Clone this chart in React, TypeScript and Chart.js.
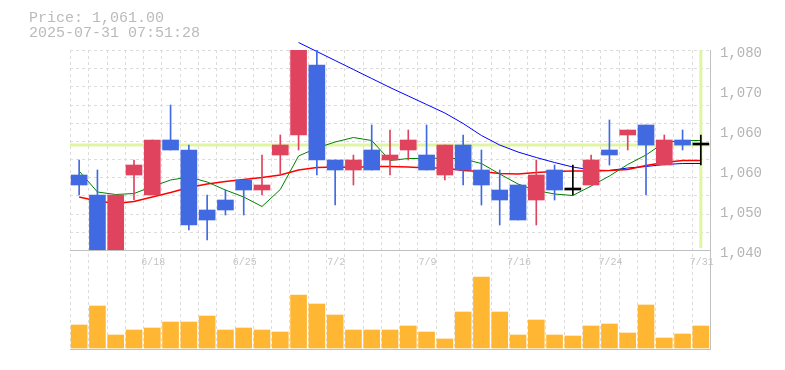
import { useEffect, useRef } from 'react';
import { Chart, registerables } from 'chart.js';

Chart.register(...registerables);

// ---- data ----
const dates = [
  '6/12', '6/13', '6/16', '6/17', '6/18', '6/19', '6/20', '6/23', '6/24', '6/25',
  '6/26', '6/27', '6/30', '7/1', '7/2', '7/3', '7/4', '7/7', '7/8', '7/9',
  '7/10', '7/11', '7/14', '7/15', '7/16', '7/17', '7/18', '7/22', '7/23', '7/24',
  '7/25', '7/28', '7/29', '7/30', '7/31',
];
const opens = [1055, 1051, 1040, 1055, 1051, 1062, 1060, 1048, 1050, 1054, 1052, 1059, 1063, 1077, 1058, 1056, 1060, 1058, 1060, 1059, 1055, 1061, 1056, 1052, 1053, 1050, 1056, 1052, 1053, 1060, 1063, 1065, 1057, 1062, 1061];
const highs = [1058, 1056, 1051, 1058, 1062, 1069, 1061, 1051, 1052, 1054, 1059, 1063, 1080, 1080, 1058, 1059, 1065, 1064, 1064, 1065, 1061, 1063, 1060, 1056, 1053, 1058, 1057, 1057, 1059, 1066, 1064, 1065, 1063, 1064, 1063];
const lows = [1051, 1040, 1040, 1050, 1051, 1060, 1044, 1042, 1047, 1047, 1051, 1055, 1060, 1055, 1049, 1053, 1056, 1055, 1058, 1056, 1054, 1053, 1049, 1045, 1046, 1045, 1050, 1051, 1053, 1057, 1060, 1051, 1057, 1060, 1057];
const closes = [1053, 1040, 1051, 1057, 1062, 1060, 1045, 1046, 1048, 1052, 1053, 1061, 1080, 1058, 1056, 1058, 1056, 1059, 1062, 1056, 1061, 1056, 1053, 1050, 1046, 1055, 1052, 1052, 1058, 1059, 1064, 1061, 1062, 1061, 1061];
const volumes = [23000, 42000, 13000, 18000, 20000, 26000, 26000, 32000, 18000, 20000, 18000, 16000, 53000, 44000, 33000, 18000, 18000, 18000, 22000, 16000, 9000, 36000, 71000, 36000, 13000, 28000, 13000, 12000, 22000, 24000, 15000, 43000, 10000, 14000, 22000];
const maShort = [1055.8, 1051.6, 1051.1, 1051.3, 1052.7, 1054.0, 1054.6, 1053.6, 1052.0, 1050.6, 1048.7, 1052.1, 1058.8, 1060.4, 1061.6, 1062.5, 1061.9, 1057.9, 1058.3, 1058.3, 1058.4, 1058.2, 1057.3, 1055.2, 1053.2, 1051.9, 1051.2, 1050.9, 1052.8, 1054.8, 1057.1, 1059.0, 1061.5, 1061.9, 1061.9];
const maMid = [1050.6, 1049.8, 1049.3, 1049.7, 1050.6, 1051.5, 1052.5, 1053.2, 1053.7, 1054.1, 1054.5, 1055.0, 1056.0, 1056.5, 1056.6, 1056.5, 1056.7, 1056.7, 1056.6, 1056.4, 1056.4, 1055.9, 1055.7, 1055.3, 1055.2, 1055.5, 1055.7, 1055.8, 1055.8, 1055.9, 1056.1, 1056.9, 1057.5, 1057.9, 1057.9];
const maLong = [null, null, null, null, null, null, null, null, null, null, null, null, 1081.5, 1079.7, 1077.9, 1076.1, 1074.3, 1072.5, 1070.8, 1069.1, 1067.4, 1065.3, 1062.9, 1061.0, 1059.6, 1058.5, 1057.5, 1056.6, 1056.0, 1055.9, 1056.4, 1056.7, 1057.1, 1057.3, 1057.3];

const yTickValues = [1080, 1072, 1064, 1056, 1048, 1040];
const yTickLabels = ['1,080', '1,070', '1,060', '1,060', '1,050', '1,040'];
const xTickDates = ['6/18', '6/25', '7/2', '7/9', '7/16', '7/24', '7/31'];
const timestamp = '2025-07-31 07:51:28';

const PRICE_TOP = 1080;
const PRICE_BOTTOM = 1040;
const GRID_ROWS = 11;

const UP = '#e0435e';
const DOWN = '#4169e1';
const EVEN = '#000000';
const FONT = '"Liberation Mono", monospace';

const bodyColors = opens.map((o, i) => (closes[i] > o ? UP : closes[i] < o ? DOWN : EVEN));
const lastIndex = closes.length - 1;
const priceText = 'Price: ' + closes[lastIndex].toLocaleString('en-US', { minimumFractionDigits: 2, maximumFractionDigits: 2 });

const panelPlugin = {
  id: 'panel',
  beforeDatasetsDraw(chart: any) {
    const { ctx, chartArea: a, scales } = chart;
    const xs = scales.x;
    const ys = scales.y;
    const n = dates.length;
    const slot = (a.right - a.left) / n;
    const sepY = ys.getPixelForValue(PRICE_BOTTOM);
    ctx.save();
    ctx.strokeStyle = '#dcdcdc';
    ctx.lineWidth = 1;
    ctx.setLineDash([3, 3]);
    ctx.beginPath();
    for (let i = 0; i < n; i++) {
      const px = Math.round(xs.getPixelForValue(i) - slot / 2) + 0.5;
      ctx.moveTo(px, a.top);
      ctx.lineTo(px, a.bottom);
    }
    for (let k = 0; k < GRID_ROWS; k++) {
      const py = Math.round(ys.getPixelForValue(PRICE_TOP - (k * (PRICE_TOP - PRICE_BOTTOM)) / GRID_ROWS)) + 0.5;
      ctx.moveTo(a.left, py);
      ctx.lineTo(a.right, py);
    }
    ctx.stroke();
    ctx.setLineDash([]);
    const lx = xs.getPixelForValue(lastIndex);
    const ly = ys.getPixelForValue(closes[lastIndex]);
    ctx.strokeStyle = '#dff5a3';
    ctx.lineWidth = 3;
    ctx.beginPath();
    ctx.moveTo(a.left, ly);
    ctx.lineTo(a.right, ly);
    ctx.moveTo(lx, a.top);
    ctx.lineTo(lx, sepY - 2);
    ctx.stroke();
    ctx.restore();
  },
  afterDatasetsDraw(chart: any) {
    const { ctx, chartArea: a, scales } = chart;
    const xs = scales.x;
    const ys = scales.y;
    const sepY = Math.round(ys.getPixelForValue(PRICE_BOTTOM));
    ctx.save();
    ctx.font = '10px ' + FONT;
    ctx.fillStyle = '#c4c4c4';
    ctx.textAlign = 'center';
    ctx.textBaseline = 'middle';
    xTickDates.forEach((d) => {
      const idx = dates.indexOf(d);
      ctx.fillText(d, xs.getPixelForValue(idx) + 1, sepY + 12);
    });
    ctx.strokeStyle = '#c0c0c0';
    ctx.lineWidth = 1;
    ctx.beginPath();
    ctx.moveTo(a.left, sepY + 0.5);
    ctx.lineTo(a.right, sepY + 0.5);
    ctx.moveTo(a.left, a.bottom - 0.5);
    ctx.lineTo(a.right + 1, a.bottom - 0.5);
    ctx.moveTo(a.right + 0.5, a.top);
    ctx.lineTo(a.right + 0.5, a.bottom);
    ctx.stroke();
    ctx.restore();
  },
};

export default function App() {
  const ref = useRef<HTMLCanvasElement>(null);
  useEffect(() => {
    if (!ref.current) return;
    const chart = new Chart(ref.current, {
      type: 'bar',
      data: {
        labels: dates,
        datasets: [
          {
            type: 'bar',
            label: 'body',
            data: opens.map((o, i) => [o, closes[i]]),
            backgroundColor: bodyColors,
            borderWidth: 0,
            barThickness: 16,
            grouped: false,
            minBarLength: 2,
            yAxisID: 'y',
            order: 0,
          } as any,
          {
            type: 'bar',
            label: 'wick',
            data: lows.map((l, i) => [l, highs[i]]),
            backgroundColor: bodyColors,
            borderWidth: 0,
            barThickness: 1,
            grouped: false,
            yAxisID: 'y',
            order: 1,
          } as any,
          {
            type: 'line',
            label: 'MA short',
            data: maShort,
            borderColor: '#008000',
            borderWidth: 1,
            pointRadius: 0,
            tension: 0,
            yAxisID: 'y',
            order: 2,
            clip: false,
          } as any,
          {
            type: 'line',
            label: 'MA mid',
            data: maMid,
            borderColor: '#ff0000',
            borderWidth: 1.5,
            pointRadius: 0,
            tension: 0,
            yAxisID: 'y',
            order: 2,
            clip: false,
          } as any,
          {
            type: 'line',
            label: 'MA long',
            data: maLong,
            borderColor: '#0000ff',
            borderWidth: 1,
            pointRadius: 0,
            tension: 0,
            yAxisID: 'y',
            order: 2,
            clip: false,
          } as any,
          {
            type: 'bar',
            label: 'volume',
            data: volumes,
            backgroundColor: '#ffb733',
            borderWidth: 0,
            barThickness: 16,
            grouped: false,
            yAxisID: 'yVol',
            order: 5,
          } as any,
        ],
      },
      options: {
        responsive: false,
        animation: false,
        devicePixelRatio: 1,
        events: [],
        layout: { padding: { left: 70, top: 50, right: 0, bottom: 20 } },
        plugins: { legend: { display: false }, tooltip: { enabled: false } },
        scales: {
          x: { type: 'category', display: false, offset: true, grid: { offset: true } },
          y: {
            type: 'linear',
            position: 'right',
            min: 1020,
            max: 1080,
            afterFit: (s: any) => {
              s.width = 75;
            },
            afterBuildTicks: (s: any) => {
              s.ticks = yTickValues.map((v) => ({ value: v }));
            },
            grid: { display: false, drawTicks: false },
            border: { display: false },
            ticks: {
              autoSkip: false,
              padding: 10,
              labelOffset: 3,
              color: '#b4b4b4',
              font: { family: 'Liberation Mono', size: 14 },
              callback: (v: any) => yTickLabels[yTickValues.indexOf(Number(v))],
            },
          },
          yVol: { type: 'linear', display: false, min: -2000, max: 298000 },
        },
      } as any,
      plugins: [panelPlugin],
    });
    return () => chart.destroy();
  }, []);

  return (
    <div style={{ position: 'absolute', left: 0, top: 0, width: 785, height: 370, background: '#fff' }}>
      <canvas ref={ref} width={785} height={370} style={{ display: 'block', width: 785, height: 370 }} />
      <div
        style={{
          position: 'absolute',
          left: 29,
          top: 11,
          font: '15px/15px ' + FONT,
          color: '#bbbbbb',
          whiteSpace: 'pre',
        }}
      >
        <div>{priceText}</div>
        <div>{timestamp}</div>
      </div>
    </div>
  );
}
